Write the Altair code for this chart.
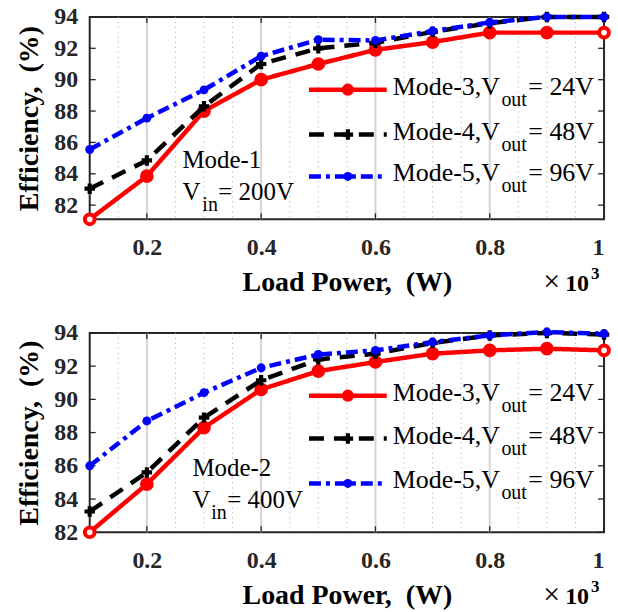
import altair as alt
import pandas as pd

# ---------------- data ----------------
load_kw = [0.1, 0.2, 0.3, 0.4, 0.5, 0.6, 0.7, 0.8, 0.9, 1.0]

top_mode3 = [81.1, 83.85, 88.0, 90.0, 91.0, 91.9, 92.4, 93.0, 93.0, 93.0]
top_mode4 = [83.05, 84.85, 88.3, 91.0, 92.0, 92.35, 93.05, 93.6, 94.0, 94.0]
top_mode5 = [85.55, 87.55, 89.35, 91.5, 92.55, 92.5, 93.1, 93.65, 94.0, 94.0]

bot_mode3 = [82.0, 84.9, 88.3, 90.6, 91.7, 92.25, 92.75, 92.95, 93.05, 92.95]
bot_mode4 = [83.25, 85.6, 88.9, 91.15, 92.4, 92.75, 93.4, 93.85, 94.0, 93.9]
bot_mode5 = [86.0, 88.7, 90.4, 91.9, 92.7, 92.95, 93.45, 93.85, 94.05, 93.95]

legend_names = ["Mode-3,V", "Mode-4,V", "Mode-5,V"]
legend_subs = ["out", "out", "out"]
legend_values = ["= 24V", "= 48V", "= 96V"]
mode_labels = ["Mode-1", "Mode-2"]
vin_values = ["= 200V", "= 400V"]

x_title = "Load Power, \u00a0(W)"
y_title = "Efficiency, \u00a0(%)"
x_ticks = [0.2, 0.4, 0.6, 0.8, 1.0]
y_ticks = [82, 84, 86, 88, 90, 92, 94]
major_grid = [0.2, 0.4, 0.6, 0.8]
minor_grid = [0.15, 0.25, 0.3, 0.35, 0.45, 0.5, 0.55, 0.65, 0.7, 0.75, 0.85, 0.9, 0.95]

# ---------------- style ----------------
FONT = "Liberation Serif"
W = 516
AX = "#262626"
LW = 4.5
series_style = [
    dict(color="#ff0000", dash=[1, 0], shape="circle", size=150),
    dict(color="#000000", dash=[15, 10], shape="cross", size=110),
    dict(color="#0000ff", dash=[12, 5, 4, 5], shape="circle", size=80),
]


def text_at(txt, x, y, size=25, weight="normal"):
    return alt.Chart(pd.DataFrame({"t": [txt]})).mark_text(
        align="left", baseline="alphabetic", font=FONT, fontSize=size,
        fontWeight=weight, color="#000000"
    ).encode(x=alt.value(x), y=alt.value(y), text="t:N")


def panel(series, ydom, h, mode_label, vin_value, leg_rows, ann):
    xs = alt.Scale(domain=[0.1, 1.0], nice=False, zero=False)
    ys = alt.Scale(domain=ydom, nice=False, zero=False)
    x_axis = alt.Axis(values=x_ticks, format="~g", title=x_title,
                      grid=False, ticks=False, domain=False,
                      labelPadding=16, titlePadding=9)
    y_axis = alt.Axis(values=y_ticks, title=y_title, grid=False,
                      ticks=False, domain=False, labelPadding=12, titlePadding=10)

    layers = []
    layers.append(alt.Chart(pd.DataFrame({"g": major_grid})).mark_rule(
        color="#d4d4d4", strokeWidth=2).encode(
        x=alt.X("g:Q", scale=xs, axis=x_axis)))
    layers.append(alt.Chart(pd.DataFrame({"g": minor_grid})).mark_rule(
        color="#a8a8a8", strokeWidth=1, strokeDash=[1, 4]).encode(
        x=alt.X("g:Q", scale=xs, axis=x_axis)))

    # inward ticks
    yt = pd.DataFrame({"t": y_ticks})
    xt = pd.DataFrame({"t": x_ticks})
    layers.append(alt.Chart(yt).mark_rule(color=AX, strokeWidth=1.3).encode(
        y=alt.Y("t:Q", scale=ys, axis=y_axis), x=alt.value(0), x2=alt.value(6)))
    layers.append(alt.Chart(yt).mark_rule(color=AX, strokeWidth=1.3).encode(
        y=alt.Y("t:Q", scale=ys, axis=y_axis), x=alt.value(W - 6), x2=alt.value(W)))
    layers.append(alt.Chart(xt).mark_rule(color=AX, strokeWidth=1.3).encode(
        x=alt.X("t:Q", scale=xs, axis=x_axis), y=alt.value(h), y2=alt.value(h - 6)))
    layers.append(alt.Chart(xt).mark_rule(color=AX, strokeWidth=1.3).encode(
        x=alt.X("t:Q", scale=xs, axis=x_axis), y=alt.value(0), y2=alt.value(6)))

    for k, (vals, st) in enumerate(zip(series, series_style)):
        df = pd.DataFrame({"x": load_kw, "y": vals})
        enc = dict(x=alt.X("x:Q", scale=xs, axis=x_axis),
                   y=alt.Y("y:Q", scale=ys, axis=y_axis))
        layers.append(alt.Chart(df).mark_line(
            color=st["color"], strokeWidth=LW, strokeDash=st["dash"], clip=False
        ).encode(**enc))
        if k == 0:
            # red circles: end points drawn as open rings, as in the original
            layers.append(alt.Chart(df).mark_point(
                shape="circle", size=95, filled=False, stroke=st["color"],
                strokeWidth=4, opacity=1, clip=False
            ).encode(fill=alt.condition("datum.x <= 0.1 || datum.x >= 1",
                                        alt.value("white"), alt.value(st["color"])),
                     **enc))
        else:
            layers.append(alt.Chart(df).mark_point(
                shape=st["shape"], size=st["size"], filled=True, color=st["color"],
                opacity=1, clip=False
            ).encode(**enc))

    # legend
    for i, st in enumerate(series_style):
        ry = leg_rows[i]
        one = pd.DataFrame({"t": [legend_names[i]]})
        layers.append(alt.Chart(one).mark_rule(
            color=st["color"], strokeWidth=LW, strokeDash=st["dash"]).encode(
            x=alt.value(220), x2=alt.value(298), y=alt.value(ry)))
        layers.append(alt.Chart(one).mark_point(
            shape=st["shape"], size=st["size"], filled=True, color=st["color"],
            opacity=1).encode(x=alt.value(259), y=alt.value(ry)))
        layers.append(text_at(legend_names[i], 304, ry + 5, size=26))
        layers.append(text_at(legend_subs[i], 413, ry + 16, size=20))
        layers.append(text_at(legend_values[i], 440, ry + 5, size=26))

    # annotation
    ax0, ay0, subx, eqx = ann
    layers.append(text_at(mode_label, ax0, ay0))
    layers.append(text_at("V", ax0, ay0 + 32))
    layers.append(text_at("in", subx, ay0 + 43, size=20))
    layers.append(text_at(vin_value, eqx, ay0 + 32))

    # x10^3
    layers.append(text_at("\u00d7", 455, h + 72, size=30))
    layers.append(text_at("10", 477, h + 72, size=24, weight="bold"))
    layers.append(text_at("3", 503, h + 60, size=17, weight="bold"))

    return alt.layer(*layers).properties(width=W, height=h)


top = panel([top_mode3, top_mode4, top_mode5], [81.1, 94], 203,
            mode_labels[0], vin_values[0], [73, 118, 160], (93, 152, 113, 129))
bottom = panel([bot_mode3, bot_mode4, bot_mode5], [82, 94], 200,
               mode_labels[1], vin_values[1], [63, 106, 151], (103, 144, 122, 138))

chart = alt.vconcat(top, bottom, spacing=114, bounds="flush").properties(
    padding={"left": 15, "top": 3, "right": 0, "bottom": 0},
    background="white"
).configure_view(stroke=AX, strokeWidth=2).configure_axis(
    labelFont=FONT, labelFontWeight="bold", labelFontSize=24, labelColor=AX,
    titleFont=FONT, titleFontWeight="bold", titleFontSize=28, titleColor="#000000"
)

chart.save("out.html", embed_options={"renderer": "svg", "actions": False})
